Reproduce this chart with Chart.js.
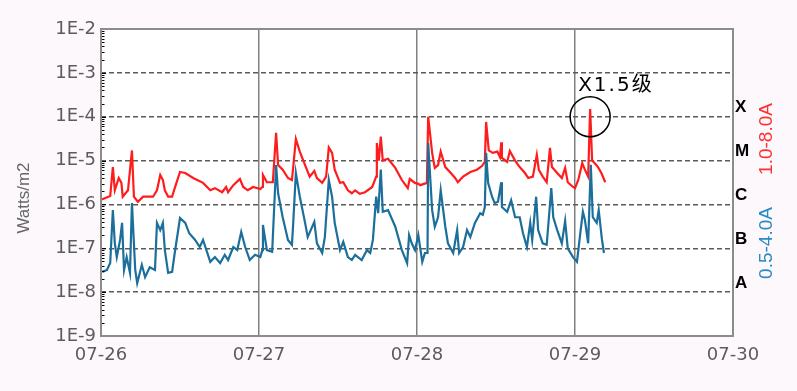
<!DOCTYPE html>
<html>
<head>
<meta charset="utf-8">
<script src="https://cdn.jsdelivr.net/npm/chart.js@4.4.0/dist/chart.umd.min.js"></script>
<style>
  html, body { margin: 0; padding: 0; background: #fdf8fc; }
  canvas { display: block; }
</style>
</head>
<body>
<canvas id="xrayChart" width="797" height="391"></canvas>
<script>
// hours since 07-26 00:00 and flux in W/m2
const longHours = [0.1, 1.4, 1.8, 2.1, 2.7, 3.1, 3.3, 4.1, 4.7, 5.0, 5.6, 6.4, 7.9, 8.5, 9.0, 9.4, 9.7, 10.2, 10.8, 11.2,
  12.0, 12.8, 14.0, 15.5, 16.6, 17.3, 18.4, 19.0, 19.3, 20.1, 21.1, 21.6, 22.3, 23.1, 24.2, 24.5, 24.6, 25.2, 26.1, 26.6,
  26.9, 27.6, 28.4, 29.0, 29.2, 29.6, 30.2, 31.0, 31.7, 32.4, 32.8, 33.6, 34.2, 34.6, 35.1, 35.5, 36.3, 36.8, 37.5, 38.1,
  38.6, 39.3, 40.1, 41.2, 41.8, 41.9, 42.2, 42.5, 42.8, 43.6, 44.7, 45.7, 46.6, 46.9, 47.7, 48.2, 48.5, 49.5, 49.7, 50.3,
  50.7, 51.2, 51.6, 52.3, 53.0, 53.8, 54.2, 55.0, 56.1, 57.1, 57.9, 58.3, 58.5, 58.9, 59.5, 60.2, 60.6, 60.8, 60.9, 61.7,
  62.1, 62.9, 63.6, 64.4, 64.9, 65.6, 66.2, 66.5, 67.1, 67.7, 68.2, 68.5, 69.3, 70.0, 70.5, 70.9, 71.7, 72.0, 72.5, 73.1,
  73.5, 74.0, 74.3, 74.6, 75.0, 75.5, 76.0, 76.6];
const longFlux = [1.3e-6, 1.55e-6, 7.1e-6, 2.1e-6, 4.0e-6, 3.1e-6, 1.5e-6, 2.1e-6, 1.7e-5, 1.5e-6, 1.15e-6, 1.5e-6, 1.5e-6, 2.1e-6, 4.7e-6, 3.6e-6, 2.1e-6, 1.5e-6, 1.5e-6, 2.35e-6,
  5.5e-6, 5.2e-6, 4.0e-6, 3.1e-6, 2.1e-6, 2.35e-6, 1.9e-6, 2.5e-6, 1.9e-6, 2.75e-6, 3.8e-6, 2.5e-6, 2.1e-6, 2.5e-6, 2.25e-6, 2.5e-6, 4.7e-6, 3.2e-6, 3.2e-6, 4.3e-5,
  7.9e-6, 6.2e-6, 4.0e-6, 3.6e-6, 7.1e-6, 3.1e-5, 1.6e-5, 7.9e-6, 4.3e-6, 5.8e-6, 4.0e-6, 3.1e-6, 4.3e-6, 2.0e-5, 1.5e-5, 6.2e-6, 3.1e-6, 3.2e-6, 2.1e-6, 1.8e-6,
  2.1e-6, 1.75e-6, 1.9e-6, 2.5e-6, 4.3e-6, 2.5e-5, 1.0e-5, 3.5e-5, 1.0e-5, 1.1e-5, 6.8e-6, 3.6e-6, 2.35e-6, 3.8e-6, 3.1e-6, 2.95e-6, 2.75e-6, 3.1e-6, 1.0e-4, 1.5e-5,
  6.8e-6, 7.9e-6, 1.6e-5, 7.1e-6, 5.5e-6, 4.0e-6, 3.2e-6, 4.3e-6, 5.5e-6, 6.2e-6, 7.6e-6, 9.3e-6, 7.6e-5, 1.7e-5, 1.5e-5, 1.6e-5, 1.2e-5, 2.6e-5, 1.15e-5, 9.3e-6,
  1.65e-5, 1.0e-5, 7.1e-6, 5.2e-6, 4.0e-6, 4.3e-6, 1.35e-5, 6.2e-6, 4.3e-6, 3.2e-6, 1.95e-5, 7.1e-6, 5.2e-6, 4.0e-6, 6.8e-6, 3.2e-6, 2.5e-6, 2.35e-6, 3.6e-6, 8.7e-6,
  6.2e-6, 4.3e-6, 1.5e-4, 1.0e-5, 8.7e-6, 7.1e-6, 5.2e-6, 3.2e-6];

const shortHours = [0.2, 0.9, 1.4, 1.8, 2.1, 2.4, 2.9, 3.2, 3.5, 3.9, 4.4, 4.7, 5.2, 5.5, 6.2, 6.7, 7.4, 8.2, 8.5, 9.0,
  9.4, 9.7, 10.2, 10.8, 11.2, 12.0, 12.8, 13.4, 14.3, 15.0, 15.5, 16.6, 17.3, 18.1, 18.8, 19.3, 20.1, 20.7, 21.3, 21.9,
  22.6, 23.4, 24.2, 24.5, 24.6, 25.2, 26.0, 26.6, 26.9, 27.6, 28.4, 29.0, 29.2, 29.6, 30.2, 31.0, 31.4, 32.4, 32.8, 33.6,
  34.0, 34.6, 35.1, 35.5, 36.3, 36.8, 37.5, 38.1, 38.6, 39.6, 40.4, 40.9, 41.3, 41.8, 42.1, 42.5, 42.8, 43.6, 44.7, 45.7,
  46.5, 46.8, 47.2, 47.7, 48.2, 48.8, 49.2, 49.6, 49.7, 50.3, 50.7, 51.2, 51.6, 52.3, 52.7, 53.5, 54.1, 54.4, 55.0, 55.6,
  56.1, 56.8, 57.6, 58.0, 58.3, 58.5, 58.8, 59.4, 59.8, 60.3, 60.8, 60.9, 61.7, 62.3, 62.9, 63.6, 64.1, 64.7, 65.2, 65.5,
  66.1, 66.4, 67.1, 67.7, 68.4, 68.7, 69.3, 70.0, 70.5, 70.9, 71.7, 72.3, 72.8, 73.2, 73.5, 74.0, 74.4, 74.7, 75.3, 75.6,
  76.1, 76.4];
const shortFlux = [2.9e-8, 3.2e-8, 4.6e-8, 7.4e-7, 1.3e-7, 6.3e-8, 1.55e-7, 3.8e-7, 3.2e-8, 6.3e-8, 2.75e-8, 1.07e-6, 3.2e-8, 1.6e-8, 4.2e-8, 2.2e-8, 3.7e-8, 3.2e-8, 3.8e-7, 2.6e-7,
  3.8e-7, 9.1e-8, 2.75e-8, 2.9e-8, 7.8e-8, 4.9e-7, 3.8e-7, 2.2e-7, 1.55e-7, 1.07e-7, 1.55e-7, 4.9e-8, 6.3e-8, 4.6e-8, 7.1e-8, 5.4e-8, 1.07e-7, 9.1e-8, 2.35e-7, 1.07e-7,
  5.4e-8, 7.1e-8, 6.3e-8, 9.1e-8, 3.4e-7, 9.1e-8, 8.3e-8, 7.9e-6, 1.8e-6, 5.1e-7, 1.55e-7, 1.2e-7, 3.8e-7, 5.2e-6, 1.5e-6, 3.8e-7, 1.8e-7, 4.0e-7, 1.3e-7, 7.8e-8,
  1.8e-7, 3.6e-6, 1.5e-6, 3.8e-7, 9.1e-8, 1.4e-7, 6.3e-8, 5.4e-8, 7.1e-8, 5.4e-8, 9.1e-8, 7.8e-8, 1.55e-7, 1.5e-6, 6.3e-7, 6.2e-6, 6.8e-7, 7.4e-7, 3.1e-7, 9.1e-8,
  4.6e-8, 2.0e-7, 1.3e-7, 9.1e-8, 2.0e-7, 4.9e-8, 7.8e-8, 7.8e-8, 2.5e-5, 7.4e-7, 3.1e-7, 5.1e-7, 2.1e-6, 3.1e-7, 1.3e-7, 7.8e-8, 2.6e-7, 7.8e-8, 1.07e-7, 2.6e-7,
  1.8e-7, 3.8e-7, 6.3e-7, 5.8e-7, 8.7e-7, 1.5e-5, 3.1e-6, 1.5e-6, 1.07e-6, 1.15e-6, 3.2e-6, 8.7e-7, 6.8e-7, 1.25e-6, 5.1e-7, 5.1e-7, 2.2e-7, 1.07e-7, 3.8e-7, 1.55e-7,
  1.5e-6, 2.6e-7, 1.3e-7, 1.2e-7, 2.35e-6, 5.1e-7, 2.6e-7, 1.3e-7, 4.2e-7, 1.0e-7, 6.3e-8, 4.9e-8, 2.2e-7, 6.8e-7, 4.5e-7, 1.3e-7, 8.0e-6, 5.1e-7, 3.8e-7, 7.4e-7,
  1.55e-7, 7.8e-8];

const dayTicks = [0, 24, 48, 72, 96];
const dayLabels = ['07-26', '07-27', '07-28', '07-29', '07-30'];
const fluxTicks = [1e-9, 1e-8, 1e-7, 1e-6, 1e-5, 1e-4, 1e-3, 1e-2];
const fluxTickLabels = ['1E-9', '1E-8', '1E-7', '1E-6', '1E-5', '1E-4', '1E-3', '1E-2'];
const classLetters = ['A', 'B', 'C', 'M', 'X'];
const classLevels = [1e-8, 1e-7, 1e-6, 1e-5, 1e-4];
const flareText = 'X1.5级';
const flareHour = 74.3;
const flareLevel = 1e-4;

Chart.defaults.font.family = 'DejaVu Sans';

function toPoints(hours, flux) {
    return hours.map((h, i) => ({ x: h, y: flux[i] }));
}

// white plot area on the pinkish page
const plotBackground = {
    id: 'plotBackground',
    beforeDraw(chart) {
        const { ctx, chartArea: a } = chart;
        ctx.save();
        ctx.fillStyle = '#ffffff';
        ctx.fillRect(a.left, a.top, a.width, a.height);
        ctx.restore();
    }
};

// frame, minor ticks, class letters, side labels and the flare mark
const decorations = {
    id: 'decorations',
    afterDraw(chart) {
        const { ctx, chartArea: a } = chart;
        const xs = chart.scales.x, ys = chart.scales.y;
        ctx.save();

        ctx.strokeStyle = '#8c8c8c';
        ctx.lineWidth = 2;
        ctx.strokeRect(a.left, a.top, a.width, a.height);

        ctx.strokeStyle = '#000';
        ctx.lineWidth = 1;
        ctx.beginPath();
        for (let k = -9; k < -2; k++) {
            for (let m = 1; m <= 9; m++) {
                const v = m * Math.pow(10, k);
                if (m === 1 && k === -9) continue;
                const y = Math.round(ys.getPixelForValue(v)) + 0.5;
                ctx.moveTo(a.left + 1, y);
                ctx.lineTo(a.left + (m === 1 ? 5 : 3.5), y);
            }
        }
        ctx.stroke();

        ctx.fillStyle = '#000';
        ctx.font = 'bold 17px "Liberation Sans"';
        ctx.textAlign = 'left';
        ctx.textBaseline = 'middle';
        classLetters.forEach((c, i) => {
            ctx.fillText(c, a.right + 2, ys.getPixelForValue(classLevels[i]) - 9);
        });

        ctx.font = '19px "Liberation Sans"';
        ctx.textAlign = 'center';
        ctx.save();
        ctx.translate(767, 139);
        ctx.rotate(-Math.PI / 2);
        ctx.fillStyle = '#ff3030';
        ctx.fillText('1.0-8.0A', 0, 0);
        ctx.restore();
        ctx.save();
        ctx.translate(767, 243);
        ctx.rotate(-Math.PI / 2);
        ctx.fillStyle = '#2a8bc0';
        ctx.fillText('0.5-4.0A', 0, 0);
        ctx.restore();

        ctx.save();
        ctx.translate(24, 198);
        ctx.rotate(-Math.PI / 2);
        ctx.fillStyle = '#666';
        ctx.font = '17px "Liberation Sans"';
        ctx.fillText('Watts/m2', 0, 0);
        ctx.restore();

        const cx = xs.getPixelForValue(flareHour);
        const cy = ys.getPixelForValue(flareLevel);
        ctx.strokeStyle = '#000';
        ctx.lineWidth = 1.5;
        ctx.beginPath();
        ctx.arc(cx, cy, 20, 0, Math.PI * 2);
        ctx.stroke();

        ctx.fillStyle = '#000';
        ctx.font = '20px "DejaVu Sans", "Noto Sans CJK SC"';
        ctx.textAlign = 'left';
        ctx.textBaseline = 'alphabetic';
        ctx.letterSpacing = '2px';
        ctx.fillText(flareText, cx - 12, cy - 26);
        ctx.restore();
    }
};

new Chart(document.getElementById('xrayChart'), {
    type: 'line',
    data: {
        datasets: [
            {
                label: '1.0-8.0A',
                data: toPoints(longHours, longFlux),
                borderColor: '#ff1c1c',
                borderWidth: 2.2,
                pointRadius: 0,
                tension: 0,
                order: 2
            },
            {
                label: '0.5-4.0A',
                data: toPoints(shortHours, shortFlux),
                borderColor: '#1b6f9a',
                borderWidth: 2.2,
                pointRadius: 0,
                tension: 0,
                order: 1
            }
        ]
    },
    options: {
        responsive: false,
        animation: false,
        layout: { padding: { top: 29, right: 64, left: 0, bottom: 0 } },
        plugins: {
            legend: { display: false },
            tooltip: { enabled: false }
        },
        scales: {
            x: {
                type: 'linear',
                min: 0,
                max: 96,
                afterBuildTicks: (scale) => { scale.ticks = dayTicks.map(v => ({ value: v })); },
                afterFit: (scale) => { scale.height = 55; },
                ticks: {
                    autoSkip: false,
                    maxRotation: 0,
                    padding: 9,
                    color: '#5c5c5c',
                    font: { size: 18 },
                    callback: (value, index) => dayLabels[index]
                },
                grid: { color: '#808080', lineWidth: 1.5, drawTicks: false },
                border: { display: false }
            },
            y: {
                type: 'logarithmic',
                min: 1e-9,
                max: 1e-2,
                afterBuildTicks: (scale) => { scale.ticks = fluxTicks.map(v => ({ value: v })); },
                afterFit: (scale) => { scale.width = 101; },
                ticks: {
                    autoSkip: false,
                    padding: 5,
                    color: '#5c5c5c',
                    font: { size: 18 },
                    callback: (value, index) => fluxTickLabels[index]
                },
                grid: {
                    drawTicks: false,
                    lineWidth: 1.4,
                    color: (c) => (c.index === 0 || c.index === fluxTicks.length - 1) ? 'rgba(0,0,0,0)' : '#5a5a5a'
                },
                border: { display: false, dash: [5, 3] }
            }
        }
    },
    plugins: [plotBackground, decorations]
});
</script>
</body>
</html>
